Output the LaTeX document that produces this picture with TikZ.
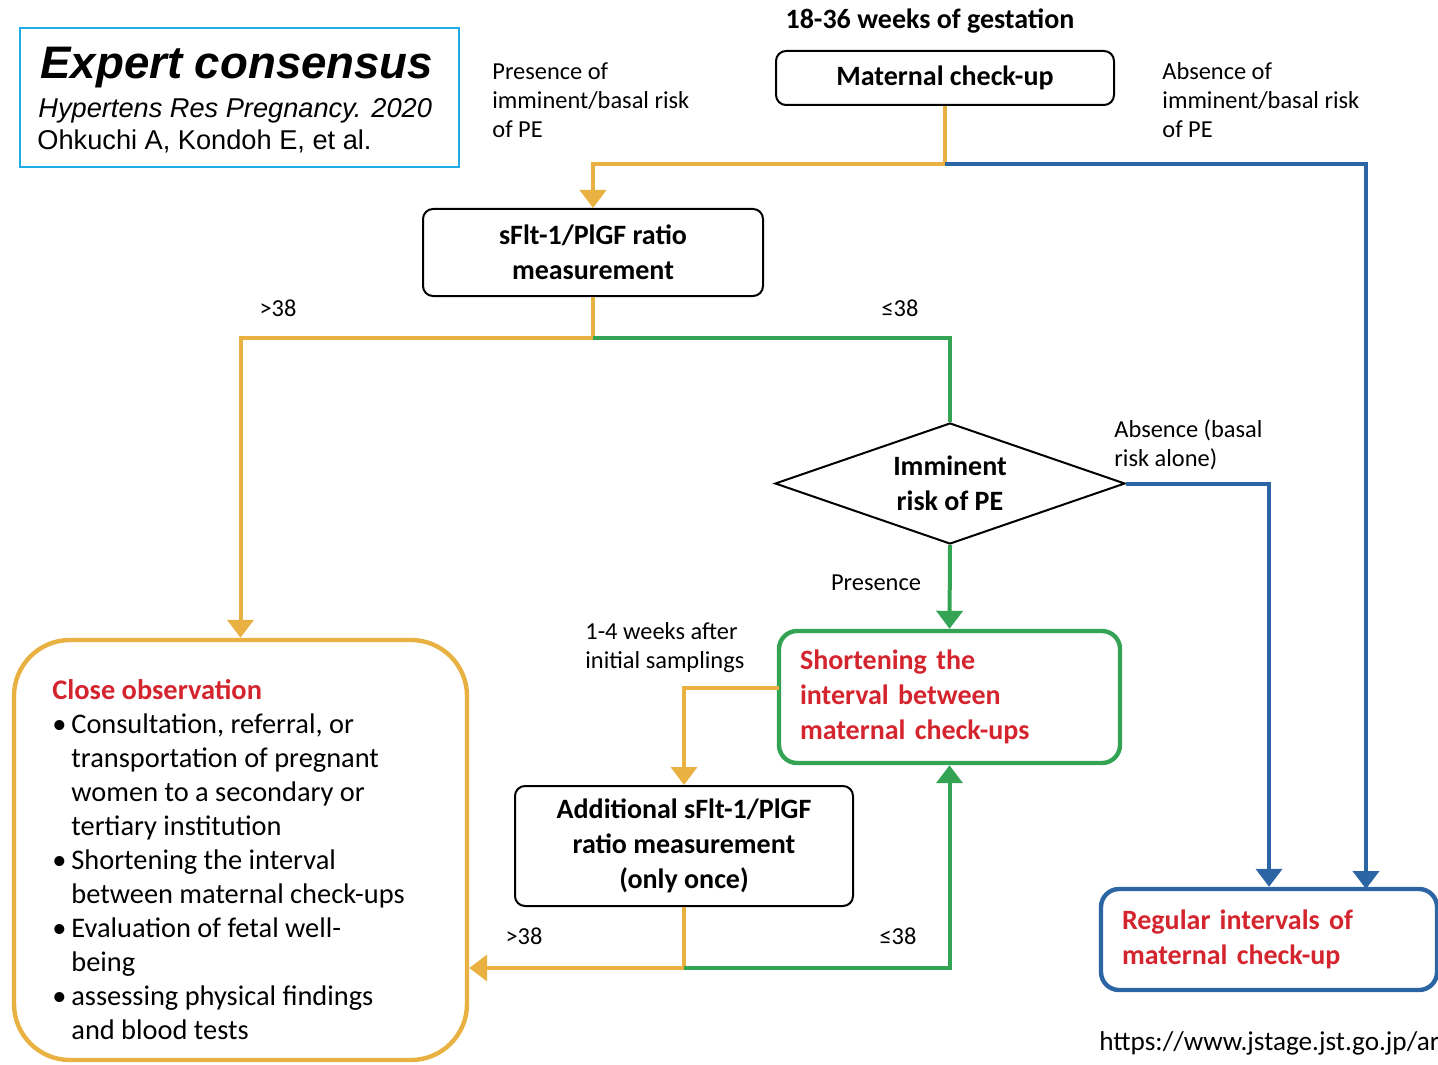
\documentclass[tikz,border=0pt]{standalone}
\usepackage{fontspec}
\setmainfont{Carlito}
\newfontfamily\arialfont{Liberation Sans}
\usetikzlibrary{arrows.meta}
\usetikzlibrary{shapes.geometric}

\definecolor{flowor}{RGB}{233,177,66}
\definecolor{flowgr}{RGB}{52,163,84}
\definecolor{flowbl}{RGB}{44,101,163}
\definecolor{flowred}{RGB}{212,36,46}
\definecolor{refcyan}{RGB}{30,170,228}

\newcommand\lblfont{\fontsize{12.2}{14.6}\selectfont}
\newcommand\stepfont{\fontsize{14}{17.5}\selectfont\bfseries}
\newcommand\closefont{\fontsize{14.2}{17}\selectfont}
\newcommand\bul{\makebox[9.5pt][l]{\textbullet}}
\newcommand\ind{\hspace*{9.5pt}}

\tikzset{
    stepbox/.style={draw, rounded corners=5pt, line width=1pt, align=center,
                    font=\stepfont, inner sep=0pt},
    colbox/.style={draw=#1, rounded corners=9pt, line width=2.2pt, align=left,
                   font=\stepfont, text=flowred, inner xsep=10.5pt, inner ysep=0pt},
    lbl/.style={inner sep=0pt, align=left, font=\lblfont},
    flow/.style={line width=2pt, draw=#1},
}

\begin{document}
\begin{tikzpicture}[
        x=0.5pt, y=-0.5pt,
        >={Triangle[width=13pt,length=9pt]},
    ]
    \useasboundingbox (0,0) rectangle (1438,1064);
    \clip (0,0) rectangle (1438,1064);

    % citation box
    \node[draw=refcyan, line width=0.8pt, minimum width=219.5pt,
          minimum height=69.5pt, inner sep=0pt] (refbox) at (239.5,97.5) {};
    \node[anchor=base west, inner sep=0pt,
          font=\arialfont\fontsize{22.8}{24}\selectfont\bfseries\itshape]
        (reftitle) at (40,79) {Expert consensus};
    \node[anchor=base west, inner sep=0pt,
          font=\arialfont\fontsize{13.6}{16}\selectfont\itshape]
        (refjournal) at (38,118) {Hypertens Res Pregnancy. 2020};
    \node[anchor=base west, inner sep=0pt,
          font=\arialfont\fontsize{13.6}{16}\selectfont]
        (refauthors) at (37,150) {Ohkuchi A, Kondoh E, et al.};

    % steps
    \node[inner sep=0pt, font=\fontsize{14}{16}\selectfont\bfseries]
        (gestation) at (930,21) {18-36 weeks of gestation};
    \node[stepbox, minimum width=169pt, minimum height=27pt]
        (check) at (945,78) {Maternal check-up};
    \node[stepbox, minimum width=170pt, minimum height=43.5pt]
        (ratio) at (593,252.5) {sFlt-1/PlGF ratio\\measurement};
    \node[diamond, draw, line width=1pt, aspect=2.9, minimum width=175pt,
          minimum height=60.5pt, inner sep=0pt, align=center, font=\stepfont]
        (risk) at (950,483.5) {Imminent\\risk of PE};
    \node[colbox=flowgr, minimum width=170.5pt, minimum height=66pt,
          text width=149.5pt] (shorten) at (949.5,697)
        {Shortening the\\interval between\\maternal check-ups};
    \node[stepbox, minimum width=169pt, minimum height=60pt]
        (additional) at (684,846)
        {Additional sFlt-1/PlGF\\ratio measurement\\(only once)};
    \node[colbox=flowbl, minimum width=168pt, minimum height=50.5pt,
          text width=147pt] (regular) at (1269,939.5)
        {Regular intervals of\\maternal check-up};

    % close observation
    \node[draw=flowor, line width=2.2pt, rounded corners=28pt,
          minimum width=226.5pt, minimum height=210pt, inner sep=0pt]
        (close) at (240.5,850) {};
    \node[anchor=north west, inner sep=0pt, align=left, font=\closefont]
        (closetext) at (52,679) {%
        {\color{flowred}\bfseries Close observation}\\
        \bul Consultation, referral, or\\
        \ind transportation of pregnant\\
        \ind women to a secondary or\\
        \ind tertiary institution\\
        \bul Shortening the interval\\
        \ind between maternal check-ups\\
        \bul Evaluation of fetal well-\\
        \ind being\\
        \bul assessing physical findings\\
        \ind and blood tests};

    % labels
    \node[lbl, anchor=north west] (presentlbl) at (492,62)
        {Presence of\\imminent/basal risk\\of PE};
    \node[lbl, anchor=north west] (absentlbl) at (1162,62)
        {Absence of\\imminent/basal risk\\of PE};
    \node[lbl] (highlbl) at (278,308) {>38};
    \node[lbl] (lowlbl) at (900,308) {≤38};
    \node[lbl, anchor=north west] (basallbl) at (1114,419)
        {Absence (basal\\risk alone)};
    \node[lbl] (presencelbl) at (876,583) {Presence};
    \node[lbl, anchor=north west] (weekslbl) at (585,622)
        {1-4 weeks after\\initial samplings};
    \node[lbl] (highlbl2) at (524,936) {>38};
    \node[lbl] (lowlbl2) at (898,936) {≤38};
    \node[anchor=base west, inner sep=0pt, font=\fontsize{13.6}{16}\selectfont]
        (url) at (1099,1050) {https://www.jstage.jst.go.jp/ar};

    % connectors
    \coordinate (split) at (945,164);
    \coordinate (fork) at (593,338);
    \coordinate (retest) at (779,688);
    \coordinate (back) at (684,968);
    \coordinate (regin) at (1366,889);

    \draw[flow=flowor] (check.south) -- (split);
    \draw[flow=flowor,->] (split) -| (ratio.north);
    \draw[flow=flowbl,->] (split) -| (regin);
    \draw[flow=flowor] (ratio.south) -- (fork);
    \draw[flow=flowor,->] (fork) -| (close.north);
    \draw[flow=flowgr] (fork) -| (risk.north);
    \draw[flow=flowbl,->] (risk.east) -| (regular.north);
    \draw[flow=flowgr,->] (risk.south) -- (shorten.north);
    \draw[flow=flowor,->] (retest) -| (additional.north);
    \draw[flow=flowor] (additional.south) -- (back);
    \draw[flow=flowor,->] (back) -- (close.east |- back);
    \draw[flow=flowgr,->] (back) -| (shorten.south);
\end{tikzpicture}
\end{document}
